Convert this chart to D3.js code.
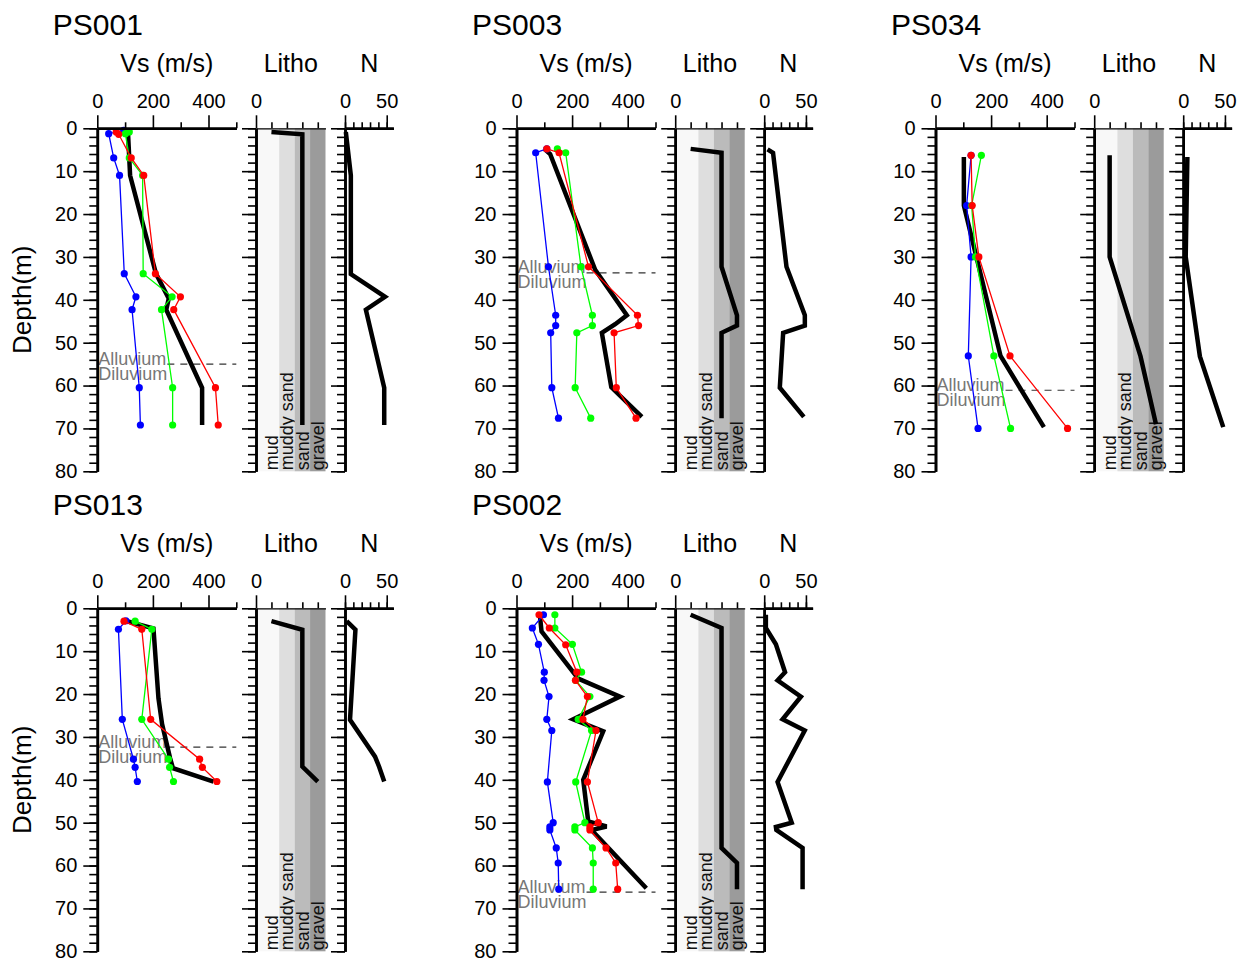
<!DOCTYPE html>
<html><head><meta charset="utf-8">
<script src="https://cdn.jsdelivr.net/npm/d3@7"></script>
<style>
body{margin:0;background:#fff;}
svg{font-family:"Liberation Sans", Arial, sans-serif;}
</style></head><body>
<svg id="c" width="1243" height="965"></svg>
<script>
// ---------------- DATA ([depth m, value]) ----------------
const siteNames = ["PS001","PS003","PS034","PS013","PS002"];
const vsTicksMajor = [0,200,400];
const vsTicksMinor = [100,300,500];
const nTicks = [0,10,20,30,40,50];
const nTickLabels = [0,50];
const depthTicks = [0,10,20,30,40,50,60,70,80];
const lithoClasses = ["mud","muddy sand","sand","gravel"];
const boundaryLabels = ["Alluvium","Diluvium"];

const PS001_blue  = [[0.5,95],[1.25,41],[6.9,59],[11,80],[33.9,97],[39.3,139],[42.3,125],[60.5,151],[69.2,155]];
const PS001_green = [[0.85,115],[1.25,101],[6.9,115],[11,163],[33.9,165],[39.3,269],[42.3,231],[60.5,271],[69.2,271]];
const PS001_red   = [[0.85,68],[1.4,77],[6.9,122],[11,167],[33.9,209],[39.3,299],[42.3,275],[60.5,425],[69.2,435]];
const PS001_black = [[0.5,110],[11,118],[33.9,211],[39.7,257],[42.3,248],[60.5,377],[69.2,377]];
const PS001_litho = [[0.85,1],[1.4,3],[69.2,3]];
const PS001_N     = [[0.85,1],[11,7],[34,7],[39.3,48],[42.3,25],[60.5,47],[69.2,47]];
const PS001_boundary = 55;

const PS003_blue  = [[4.8,109],[5.7,69],[32.3,115],[43.6,141],[46,141],[47.7,123],[60.5,127],[67.6,151]];
const PS003_green = [[4.8,147],[5.7,177],[32.3,232],[43.6,273],[46,273],[47.7,217],[60.5,211],[67.6,267]];
const PS003_red   = [[4.8,109],[5.7,153],[32.3,259],[43.6,435],[46,439],[47.7,351],[60.5,359],[67.6,430]];
const PS003_black = [[4.8,100],[6.0,121],[33,283],[43.6,397],[45.7,355],[47.7,307],[60.4,341],[67.3,451]];
const PS003_litho = [[4.8,1],[5.7,3],[32.3,3],[43.6,4],[46,4],[47.7,3],[67.6,3]];
const PS003_N     = [[4.9,4],[5.7,10.6],[32.3,26.7],[43.6,48.7],[46,48.7],[47.7,22.7],[60.5,18.7],[67.3,47.5]];
const PS003_boundary = 33.7;

const PS034_blue  = [[6.3,128],[18,112],[30,128],[53.1,118],[70,153]];
const PS034_green = [[6.3,165],[18,130],[30,144],[53.1,210],[70,270]];
const PS034_red   = [[6.3,128],[18,132],[30,156],[53.1,268],[70,475]];
const PS034_black = [[6.7,102],[18,102],[53.1,234],[69.7,390]];
const PS034_litho = [[6.3,1],[30,1],[53.2,3],[69,4]];
const PS034_N     = [[6.7,5],[30,3],[53.2,20],[69.7,48]];
const PS034_boundary = 61.1;

const PS013_blue  = [[2.9,103],[4.9,76],[25.9,90],[35.2,130],[37.1,136],[40.4,144]];
const PS013_green = [[3.0,136],[4.9,196],[25.9,160],[35.2,256],[37.1,260],[40.4,274]];
const PS013_red   = [[3.0,96],[4.9,160],[25.9,192],[35.2,368],[37.1,378],[40.4,430]];
const PS013_black = [[2.9,100],[4.7,202],[21,220],[27,233],[35,262],[37.3,272],[40.4,418]];
const PS013_litho = [[3.0,1],[5.0,3],[36.9,3],[40.4,4]];
const PS013_N     = [[3.0,2],[5.0,12.5],[26,6],[34.6,36],[37,41],[40.4,47]];
const PS013_boundary = 32.4;

const PS002_blue  = [[1.5,97],[4.6,57],[8.4,79],[14.9,100],[16.8,99],[20.6,117],[25.9,109],[28.5,127],[40.5,111],[50,132],[51,120],[51.7,120],[55.9,143],[59.4,150],[65.5,152]];
const PS002_green = [[1.5,138],[4.6,138],[8.4,201],[14.9,234],[16.8,213],[20.6,264],[25.9,222],[28.5,270],[40.5,213],[50,246],[51,210],[51.7,210],[55.9,273],[59.4,276],[65.5,276]];
const PS002_red   = [[1.5,81],[4.6,118],[8.5,177],[14.9,217],[16.8,212],[20.6,255],[25.9,239],[28.5,286],[40.5,255],[50,294],[51,264],[51.7,264],[55.9,322],[59.4,357],[65.5,364]];
const PS002_black = [[1.5,84],[5.4,90],[16.4,222],[20.6,372],[25.9,204],[28.7,312],[40,240],[49.7,258],[50.9,324],[51.7,270],[65.3,467]];
const PS002_litho = [[1.5,1],[4.6,3],[55.9,3],[59.4,4],[65.5,4]];
const PS002_N     = [[1.5,2],[4.6,2],[8.4,14],[14.9,25],[16.8,16],[20.6,44],[25.9,22],[28.5,48.6],[40.5,16],[50,33],[51,14],[51.7,14.5],[55.9,46],[65.5,46]];
const PS002_boundary = 66.2;

// ---------------- assembly ----------------
const sites = {
  PS001:{blue:PS001_blue,green:PS001_green,red:PS001_red,black:PS001_black,litho:PS001_litho,N:PS001_N,boundary:PS001_boundary,col:0,row:0},
  PS003:{blue:PS003_blue,green:PS003_green,red:PS003_red,black:PS003_black,litho:PS003_litho,N:PS003_N,boundary:PS003_boundary,col:1,row:0},
  PS034:{blue:PS034_blue,green:PS034_green,red:PS034_red,black:PS034_black,litho:PS034_litho,N:PS034_N,boundary:PS034_boundary,col:2,row:0},
  PS013:{blue:PS013_blue,green:PS013_green,red:PS013_red,black:PS013_black,litho:PS013_litho,N:PS013_N,boundary:PS013_boundary,col:0,row:1},
  PS002:{blue:PS002_blue,green:PS002_green,red:PS002_red,black:PS002_black,litho:PS002_litho,N:PS002_N,boundary:PS002_boundary,col:1,row:1}
};

const colX = [97.3, 516.5, 935.5];
const rowY = [128.3, 608.3];
const VS_W = 139, LI_OFF = 158.7, LI_W = 69.5, N_OFF = 247.7, N_W = 48.4, H = 343;
const bandColors = ["#f8f8f8","#dedede","#bbbbbb","#9b9b9b"];

const svg = d3.select("#c");

function styleAxis(g, tickW){
  g.select(".domain").attr("stroke","#000").attr("stroke-width",2.6);
  g.selectAll(".tick line").attr("stroke","#000").attr("stroke-width",tickW||1.6);
  g.selectAll(".tick text").attr("fill","#000").attr("font-size","20px");
}

function depthAxes(g, x0, y, labels){
  const minor = d3.range(0,81,2);
  const a1 = g.append("g").attr("transform",`translate(${x0},0)`)
    .call(d3.axisLeft(y).tickValues(minor).tickSize(8).tickSizeOuter(0).tickFormat(""));
  styleAxis(a1);
  const a2 = g.append("g").attr("transform",`translate(${x0},0)`)
    .call(d3.axisLeft(y).tickValues(depthTicks).tickSize(14).tickSizeOuter(0).tickPadding(6)
      .tickFormat(labels ? d3.format("d") : ""));
  styleAxis(a2);
}

siteNames.forEach(name=>{
  const s = sites[name];
  const ox = colX[s.col], oy = rowY[s.row];
  const g = svg.append("g");
  const y = d3.scaleLinear().domain([0,80]).range([oy, oy+H]);
  const xv = d3.scaleLinear().domain([0,500]).range([ox, ox+VS_W]);
  const xl = d3.scaleLinear().domain([0,4.5]).range([ox+LI_OFF, ox+LI_OFF+LI_W]);
  const xn = d3.scaleLinear().domain([0,58]).range([ox+N_OFF, ox+N_OFF+N_W]);

  // titles
  g.append("text").attr("x",ox-44.5).attr("y",oy-93.3).attr("font-size","30px").text(name);
  g.append("text").attr("x",(xv.range()[0]+xv.range()[1])/2).attr("y",oy-56.5)
    .attr("text-anchor","middle").attr("font-size","25px").text("Vs (m/s)");
  g.append("text").attr("x",(xl.range()[0]+xl.range()[1])/2).attr("y",oy-56.5)
    .attr("text-anchor","middle").attr("font-size","25px").text("Litho");
  g.append("text").attr("x",(xn.range()[0]+xn.range()[1])/2).attr("y",oy-56.5)
    .attr("text-anchor","middle").attr("font-size","25px").text("N");
  if (s.col===0){
    g.append("text").attr("transform",`translate(31,${oy+H/2}) rotate(-90)`)
      .attr("text-anchor","middle").attr("font-size","26px").text("Depth(m)");
  }

  // litho bands
  lithoClasses.forEach((c,i)=>{
    g.append("rect").attr("x",xl(i===0?0:i+0.5)).attr("y",y(0))
      .attr("width",xl(i+1.5)-xl(i===0?0:i+0.5)).attr("height",y(80)-y(0))
      .attr("fill",bandColors[i]);
    g.append("text").attr("transform",`translate(${xl(i+1)},${y(80)-1}) rotate(-90)`)
      .attr("dy","0.35em").attr("font-size","18px").attr("fill","#111").text(c);
  });

  // boundary
  const by = y(s.boundary);
  const t1 = g.append("text").attr("x",xv(0)+1).attr("y",by+0.5).attr("font-size","18px")
    .attr("fill","#777").text(boundaryLabels[0]);
  g.append("text").attr("x",xv(0)+1).attr("y",by+15.5).attr("font-size","18px")
    .attr("fill","#777").text(boundaryLabels[1]);
  const tEnd = xv(0)+1+t1.node().getComputedTextLength();
  g.append("line").attr("x1",tEnd+1).attr("x2",xv(500)).attr("y1",by).attr("y2",by)
    .attr("stroke","#333").attr("stroke-width",1.2).attr("stroke-dasharray","7,6");

  // Vs lines
  const lineV = d3.line().x(d=>xv(d[1])).y(d=>y(d[0]));
  g.append("path").datum(s.black).attr("d",lineV).attr("fill","none")
    .attr("stroke","#000").attr("stroke-width",4.5).attr("stroke-linejoin","miter");
  [["blue","#0000ff"],["green","#00ff00"],["red","#ff0000"]].forEach(([k,c])=>{
    g.append("path").datum(s[k]).attr("d",lineV).attr("fill","none")
      .attr("stroke",c).attr("stroke-width",1.3);
    g.selectAll(null).data(s[k]).enter().append("circle")
      .attr("cx",d=>xv(d[1])).attr("cy",d=>y(d[0])).attr("r",3.6).attr("fill",c);
  });

  // litho line
  const lineL = d3.line().x(d=>xl(d[1])).y(d=>y(d[0]));
  g.append("path").datum(s.litho).attr("d",lineL).attr("fill","none")
    .attr("stroke","#000").attr("stroke-width",4.5).attr("stroke-linejoin","miter");
  // N line
  const lineN = d3.line().x(d=>xn(d[1])).y(d=>y(d[0]));
  g.append("path").datum(s.N).attr("d",lineN).attr("fill","none")
    .attr("stroke","#000").attr("stroke-width",4.5).attr("stroke-linejoin","miter");

  // axes: Vs
  const ax1 = g.append("g").attr("transform",`translate(0,${oy})`)
    .call(d3.axisTop(xv).tickValues(vsTicksMinor).tickSize(6).tickSizeOuter(0).tickFormat(""));
  styleAxis(ax1);
  const ax2 = g.append("g").attr("transform",`translate(0,${oy})`)
    .call(d3.axisTop(xv).tickValues(vsTicksMajor).tickSize(13).tickSizeOuter(0).tickPadding(7).tickFormat(d3.format("d")));
  styleAxis(ax2);
  depthAxes(g, ox, y, true);

  // axes: litho
  const al1 = g.append("g").attr("transform",`translate(0,${oy})`)
    .call(d3.axisTop(xl).tickValues([1,2,3,4]).tickSize(6).tickSizeOuter(0).tickFormat(""));
  styleAxis(al1);
  al1.select(".domain").attr("stroke-width",1.2);
  const al2 = g.append("g").attr("transform",`translate(0,${oy})`)
    .call(d3.axisTop(xl).tickValues([0]).tickSize(13).tickSizeOuter(0).tickPadding(7).tickFormat(d3.format("d")));
  styleAxis(al2);
  al2.select(".domain").remove();
  depthAxes(g, xl(0), y, false);

  // axes: N
  const an1 = g.append("g").attr("transform",`translate(0,${oy})`)
    .call(d3.axisTop(xn).tickValues(nTicks).tickSize(6).tickSizeOuter(0).tickFormat(""));
  styleAxis(an1);
  const an2 = g.append("g").attr("transform",`translate(0,${oy})`)
    .call(d3.axisTop(xn).tickValues(nTickLabels).tickSize(13).tickSizeOuter(0).tickPadding(7).tickFormat(d3.format("d")));
  styleAxis(an2);
  depthAxes(g, xn(0), y, false);
});
</script>
</body></html>
